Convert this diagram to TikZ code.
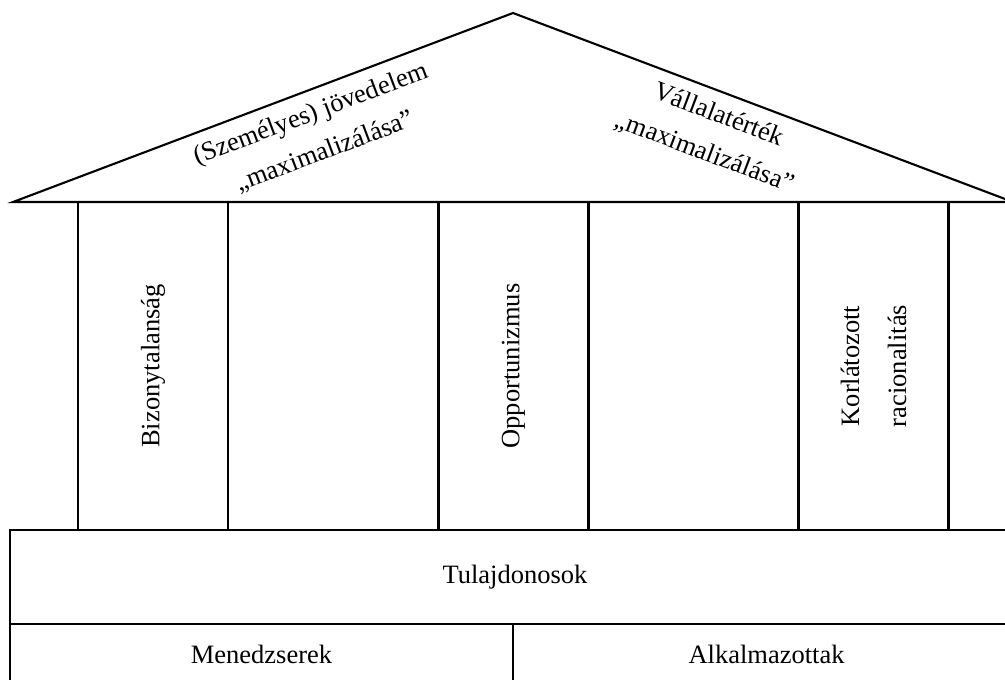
\documentclass[tikz,border=0pt]{standalone}
\usepackage{fontspec}
\setmainfont{Liberation Serif}
\begin{document}
\begin{tikzpicture}[x=1pt,y=-1pt,line width=2.1pt,
  every node/.style={font=\fontsize{26.5}{40}\selectfont, inner sep=0pt},
  pillar/.style={draw, rotate=90, minimum width=328pt, minimum height=150pt,
    align=center, font=\fontsize{26.5}{47}\selectfont},
  roofnote/.style={align=center, font=\fontsize{26.5}{40}\selectfont},
  basebox/.style={draw}]
\path[use as bounding box, clip] (0,0) rectangle (1005,680);
% roof
\coordinate (L) at (13,202);
\coordinate (A) at (513,13);
\coordinate (R) at (1013,202);
\draw[line join=miter] (L) -- (A) -- (R) -- cycle;
\node[roofnote, rotate=20.7] (t1) at (318,133) {(Személyes) jövedelem\\„maximalizálása”};
\node[roofnote, rotate=-20.7] (t2) at (711.5,134) {Vállalatérték\\„maximalizálása”};
% pillars
\node[pillar] (p1) at (153,366) {Bizonytalanság};
\node[pillar] (p2) at (513.5,366) {Opportunizmus};
\node[pillar] (p3) at (873.5,366) {Korlátozott\\racionalitás};
% base
\node[basebox, minimum width=1010pt, minimum height=94pt] (own) at (515,577) {Tulajdonosok};
\node[basebox, minimum width=503pt, minimum height=60pt] (mgr) at (261.5,654) {Menedzserek};
\node[basebox, minimum width=507pt, minimum height=60pt] (emp) at (766.5,654) {Alkalmazottak};
\end{tikzpicture}
\end{document}
